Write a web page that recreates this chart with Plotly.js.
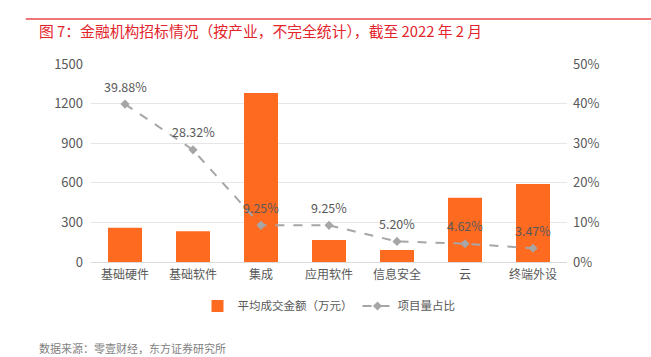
<!DOCTYPE html>
<html>
<head>
<meta charset="utf-8">
<script src="https://cdn.plot.ly/plotly-3.0.1.min.js"></script>
<style>html,body{margin:0;padding:0;background:#fff;}#chart{width:651px;height:357px;}</style>
</head>
<body>
<div id="chart"></div>
<script>
const categories = ['基础硬件', '基础软件', '集成', '应用软件', '信息安全', '云', '终端外设'];
const avgAmount = [260, 233, 1281, 167, 91, 486, 590];
const shareValues = [39.88, 28.32, 9.25, 9.25, 5.20, 4.62, 3.47];
const shareLabels = ['39.88%', '28.32%', '9.25%', '9.25%', '5.20%', '4.62%', '3.47%'];
const leftTicks = [0, 300, 600, 900, 1200, 1500];
const rightTicks = [0, 10, 20, 30, 40, 50];
const rightTickText = ['0%', '10%', '20%', '30%', '40%', '50%'];

const FONT = '"Noto Sans CJK SC", "Noto Sans", sans-serif';
const GREY = '#595959';

const traces = [
  {
    type: 'bar', x: categories, y: avgAmount, name: '平均成交金额（万元）',
    marker: {color: '#FF6A21'}, yaxis: 'y', hoverinfo: 'none'
  },
  {
    type: 'scatter', mode: 'lines+markers', x: categories, y: shareValues,
    name: '项目量占比', yaxis: 'y2',
    line: {color: '#A6A6A6', width: 2, dash: 'dash'},
    marker: {symbol: 'diamond', size: 7, color: '#A6A6A6'},
    cliponaxis: false, hoverinfo: 'none'
  }
];

const labelAnnotations = categories.map((c, i) => ({
  x: c, y: shareValues[i], xref: 'x', yref: 'y2', yshift: 18,
  text: shareLabels[i], showarrow: false, xanchor: 'center', yanchor: 'middle',
  font: {family: FONT, size: 12.5, color: GREY}
}));

const layout = {
  width: 651, height: 357,
  margin: {l: 91, r: 84, t: 64, b: 95},
  paper_bgcolor: '#fff', plot_bgcolor: '#fff',
  font: {family: FONT, size: 13, color: GREY},
  showlegend: true,
  bargap: 0.5,
  xaxis: {
    type: 'category', showgrid: false, zeroline: false,
    showline: true, linecolor: '#D9D9D9', linewidth: 1,
    ticks: '', tickfont: {family: FONT, size: 12, color: GREY}, ticklabelstandoff: 2
  },
  yaxis: {
    range: [0, 1500], tickvals: leftTicks, ticktext: leftTicks.map(String),
    showgrid: true, gridcolor: '#E6E6E6', zeroline: false,
    ticks: '', tickfont: {family: FONT, size: 13, color: GREY}, ticklabelstandoff: 7
  },
  yaxis2: {
    range: [0, 50], overlaying: 'y', side: 'right',
    tickvals: rightTicks, ticktext: rightTickText,
    showgrid: false, zeroline: false, ticks: '',
    tickfont: {family: FONT, size: 13, color: GREY}, ticklabelstandoff: 5
  },
  legend: {
    orientation: 'h', x: 0.5, xanchor: 'center', y: -0.222, yanchor: 'middle',
    font: {family: FONT, size: 11.5, color: GREY}, itemwidth: 30
  },
  shapes: [
    {type: 'line', xref: 'paper', yref: 'paper', x0: -0.137, x1: 1.2, y0: 1.227, y1: 1.227,
     line: {color: '#E8494B', width: 1.5}}
  ],
  annotations: labelAnnotations.concat([
    {xref: 'paper', yref: 'paper', x: -0.114, y: 1.167, xanchor: 'left', yanchor: 'middle',
     text: '图 7：金融机构招标情况（按产业，不完全统计），截至 2022 年 2 月', showarrow: false,
     font: {family: FONT, size: 14.8, color: '#E3242B'}},
    {xref: 'paper', yref: 'paper', x: -0.114, y: -0.435, xanchor: 'left', yanchor: 'middle',
     text: '数据来源：零壹财经，东方证券研究所', showarrow: false,
     font: {family: FONT, size: 11, color: '#7F7F7F'}}
  ])
};

Plotly.newPlot('chart', traces, layout, {displayModeBar: false, staticPlot: true});
</script>
</body>
</html>
